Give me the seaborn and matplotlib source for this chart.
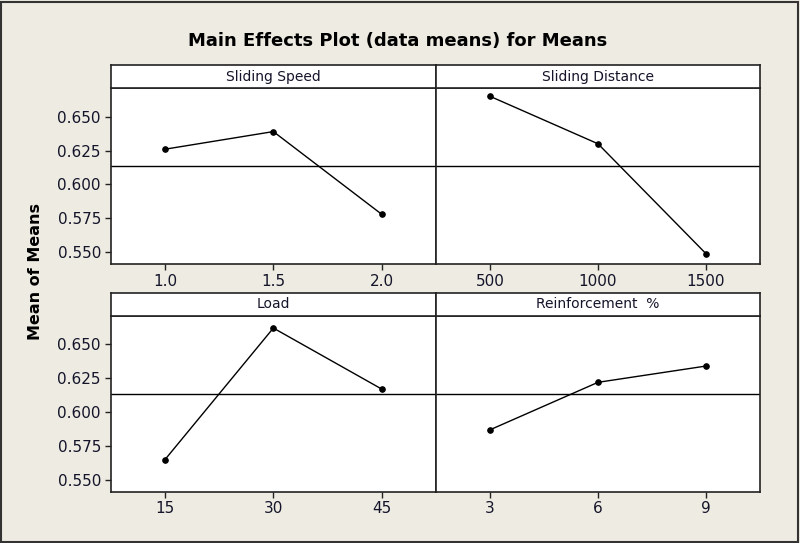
import pandas as pd
import numpy as np
import matplotlib
matplotlib.use("Agg")
import matplotlib.pyplot as plt
import seaborn as sns
from matplotlib.patches import Rectangle

# dados
fatores = ["Sliding Speed", "Sliding Distance", "Load", "Reinforcement  %"]
niveis_speed = ["1.0", "1.5", "2.0"]
medias_speed = [0.626, 0.639, 0.578]
niveis_distance = ["500", "1000", "1500"]
medias_distance = [0.665, 0.630, 0.549]
niveis_load = ["15", "30", "45"]
medias_load = [0.565, 0.662, 0.617]
niveis_reinf = ["3", "6", "9"]
medias_reinf = [0.587, 0.622, 0.634]
media_geral = 0.6133

niveis = [niveis_speed, niveis_distance, niveis_load, niveis_reinf]
medias = [medias_speed, medias_distance, medias_load, medias_reinf]

sns.set_style("white")
plt.rcParams['font.family'] = ['DejaVu Sans']

fundo = "#eeebe2"
cor_texto = "#14142a"

fig = plt.figure(figsize=(8, 5.43), dpi=100, facecolor=fundo)

# posicoes dos paineis (fracoes da figura)
esq = [0.1384, 0.545]
larg = [0.4066, 0.405]
base = [0.5138, 0.0945]
alt = 0.3236

for i, fator in enumerate(fatores):
    lin, col = divmod(i, 2)
    ax = fig.add_axes([esq[col], base[lin], larg[col], alt])
    df = pd.DataFrame({"Nivel": niveis[i], "Media": medias[i]})
    sns.pointplot(data=df, x="Nivel", y="Media", order=niveis[i],
                  color="black", markers="o", markersize=4,
                  linewidth=1, errorbar=None, ax=ax)
    ax.axhline(media_geral, color="black", linewidth=1)
    ax.set_xlim(-0.5, 2.5)
    ax.set_ylim(0.5414, 0.6709)
    ax.set_xlabel("")
    ax.set_ylabel("")
    ax.set_yticks([0.550, 0.575, 0.600, 0.625, 0.650])
    ax.set_facecolor("white")
    for s in ax.spines.values():
        s.set_color("#222222")
        s.set_linewidth(1.2)
    ax.tick_params(axis="both", direction="out", length=4, width=1,
                   bottom=True, left=True,
                   color="#222222", labelsize=11, labelcolor=cor_texto, pad=3)
    if col == 0:
        ax.set_yticklabels([f"{v:.3f}" for v in ax.get_yticks()])
    else:
        ax.tick_params(axis="y", left=False, labelleft=False)

    # faixa do titulo do painel
    cab = ax.inset_axes([0, 1, 1, 0.131])
    cab.set_facecolor("white")
    cab.set_xticks([])
    cab.set_yticks([])
    for s in cab.spines.values():
        s.set_color("#222222")
        s.set_linewidth(1.2)
    cab.text(0.5, 0.5, fator, ha="center", va="center", fontsize=10,
             color=cor_texto, transform=cab.transAxes)

fig.text(0.497, 0.925, "Main Effects Plot (data means) for Means",
         ha="center", va="center", fontsize=13, fontweight="bold", color="black")
fig.text(0.044, 0.5, "Mean of Means", rotation=90, ha="center", va="center",
         fontsize=11.5, fontweight="bold", color="black")

# moldura externa
fig.patches.append(Rectangle((0.001, 0.002), 0.997, 0.995, transform=fig.transFigure,
                             fill=False, edgecolor="#333333", linewidth=1.5))

plt.savefig("out.png", dpi=100, facecolor=fundo)
